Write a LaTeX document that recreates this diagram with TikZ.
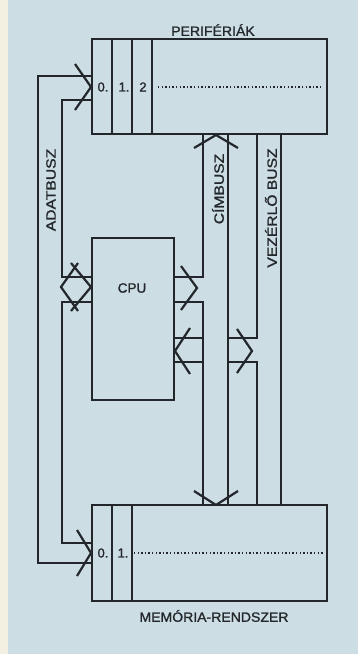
\documentclass[tikz,border=0pt]{standalone}
\usepackage{fontspec}
\setmainfont{Liberation Sans}
\newfontfamily\lblfont[FakeBold=1.2]{Liberation Sans}
\definecolor{bgblue}{RGB}{204,222,228}
\definecolor{strip}{RGB}{243,240,226}
\definecolor{ink}{RGB}{35,38,42}
\tikzset{
  wire/.style={draw=ink, line width=2.2pt, line join=miter},
  chev/.style={draw=ink, line width=2.2pt, line join=miter},
  unit/.style={draw=ink, line width=2.2pt, rectangle, inner sep=0pt},
  lbl/.style={text=ink, inner sep=0pt, font=\lblfont\fontsize{13.5}{15}\selectfont},
  num/.style={text=ink, inner sep=0pt, font=\lblfont\fontsize{13}{15}\selectfont},
  dots/.style={draw=ink, line width=1.5pt, dash pattern=on 1.4pt off 2.2pt}
}
\newcommand{\wide}[2][1.04]{\scalebox{#1}[1]{#2}}
\begin{document}
\begin{tikzpicture}[x=1pt,y=-1pt]
\useasboundingbox (0,0) rectangle (358,654);
\fill[bgblue] (0,0) rectangle (358,654);
\fill[strip] (0,0) rectangle (8,654);

% units
\node[unit, minimum width=235pt, minimum height=95pt] (per) at (209.5,86.5) {};
\node[unit, minimum width=235pt, minimum height=96pt] (mem) at (209.5,553) {};
\node[unit, minimum width=82pt, minimum height=162pt] (cpu) at (133,319) {};

% dividers
\draw[wire] (112,39) -- (112,134);
\draw[wire] (132,39) -- (132,134);
\draw[wire] (152,39) -- (152,134);
\draw[wire] (112,505) -- (112,601);
\draw[wire] (132,505) -- (132,601);

% cell numbers and dotted rows
\node[num] (p0) at (103,87) {0.};
\node[num] (p1) at (124,87) {1.};
\node[num] (p2) at (143,87) {2};
\coordinate (pd1) at (158,87);
\coordinate (pd2) at (323,87);
\draw[dots] (pd1) -- (pd2);
\node[num] (m0) at (103,553) {0.};
\node[num] (m1) at (123,553) {1.};
\coordinate (md1) at (134,553);
\coordinate (md2) at (323,553);
\draw[dots] (md1) -- (md2);

% titles
\node[lbl] (tper) at (213,30) {\wide{PERIFÉRIÁK}};
\node[lbl] (tmem) at (214,616) {\wide{MEMÓRIA-RENDSZER}};
\node[lbl] (tcpu) at (132,288) {\wide[1.0]{CPU}};
\node[lbl, rotate=90] (tadat) at (51,190) {\wide[1.16]{ADATBUSZ}};
\node[lbl, rotate=90] (tcim) at (218,189) {\wide[1.16]{CÍMBUSZ}};
\node[lbl, rotate=90] (tvez) at (271,208) {\wide[1.16]{VEZÉRLŐ BUSZ}};

% data bus
\draw[wire] (per.west |- 0,76) -| (38,563) -- (mem.west |- 0,563);
\draw[wire] (per.west |- 0,100) -| (62,277) -- (cpu.west |- 0,277);
\draw[wire] (cpu.west |- 0,302) -| (62,543) -- (mem.west |- 0,543);
\draw[chev] (75,64) -- (91,87) -- (75,110);
\draw[chev] (77,530) -- (91,553) -- (77,576);
\draw[chev] (78,263) -- (61,287) -- (78,311);
\draw[chev] (71,263) -- (91,287) -- (71,311);

% address bus
\draw[wire] (per.south -| 203,0) |- (cpu.east |- 0,277);
\draw[wire] (cpu.east |- 0,302) -| (mem.north -| 203,0);
\draw[wire] (per.south -| 228,0) -- (mem.north -| 228,0);
\draw[chev] (181,266) -- (197,288) -- (181,310);
\draw[chev] (194,148) -- (216,135) -- (238,148);
\draw[chev] (194,491) -- (216,505) -- (238,491);

% control bus
\draw[wire] (per.south -| 257,0) |- (228,338);
\draw[wire] (228,362) -| (mem.north -| 257,0);
\draw[wire] (per.south -| 281,0) -- (mem.north -| 281,0);
\draw[wire] (cpu.east |- 0,338) -- (203,338);
\draw[wire] (cpu.east |- 0,362) -- (203,362);
\draw[chev] (190,328) -- (175,351) -- (190,374);
\draw[chev] (237,329) -- (252,351) -- (237,373);
\end{tikzpicture}
\end{document}
